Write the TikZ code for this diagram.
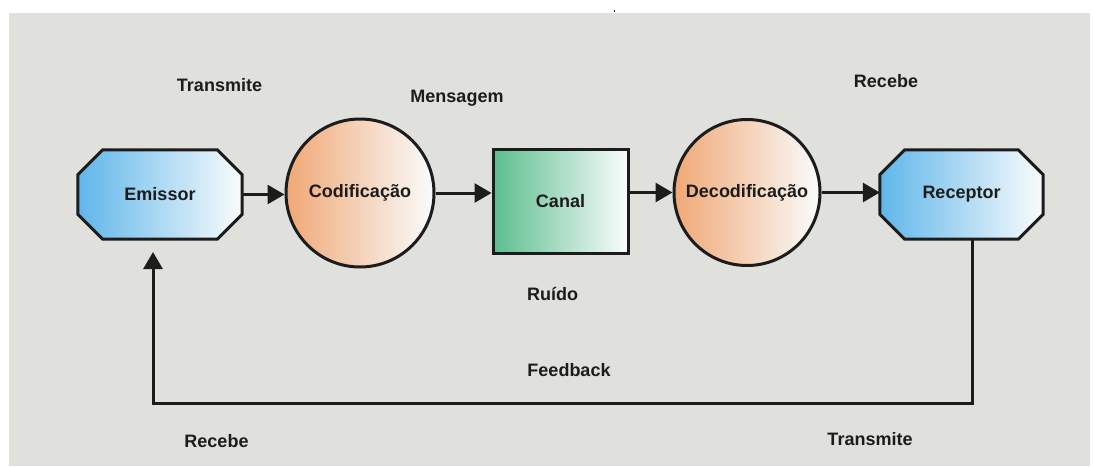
\documentclass[tikz,border=0pt]{standalone}
\usepackage{fontspec}
\setmainfont{Liberation Sans}
\usetikzlibrary{arrows.meta,calc,backgrounds}

\definecolor{panel}{RGB}{224,224,221}
\definecolor{ink}{RGB}{28,28,28}
\definecolor{skyblue}{RGB}{95,182,234}
\definecolor{peach}{RGB}{240,168,118}
\definecolor{mint}{RGB}{92,190,142}
\definecolor{paper}{RGB}{250,252,253}

\tikzset{
  txt/.style={font=\fontsize{18}{20}\selectfont\bfseries, text=ink, inner sep=0pt},
  outline/.style={draw=ink, line width=3pt},
  octbox/.style={txt, rectangle, draw=none, minimum width=164pt, minimum height=89pt},
  circbox/.style={txt, circle, outline, left color=peach, right color=paper, minimum size=148pt},
  chanbox/.style={txt, rectangle, outline, left color=mint, right color=paper,
                  minimum width=135pt, minimum height=104pt},
  flow/.style={draw=ink, line width=3pt, -{Triangle[length=17pt,width=19pt]}},
  caption/.style={txt, anchor=base},
}

% octagon with chamfered corners around a rectangular node
\newcommand{\chamferpath}[1]{%
  ($(#1.north west)+(25,0)$) -- ($(#1.north east)+(-25,0)$) --
  ($(#1.north east)+(0,25)$) -- ($(#1.south east)+(0,-25)$) --
  ($(#1.south east)+(-25,0)$) -- ($(#1.south west)+(25,0)$) --
  ($(#1.south west)+(0,-25)$) -- ($(#1.north west)+(0,25)$) -- cycle}

\begin{document}
\begin{tikzpicture}[x=1pt,y=-1pt]
  \useasboundingbox (0,0) rectangle (1094,466);

  % blocks of the communication chain
  \node[octbox] (emi) at (160,194.5) {Emissor};
  \node[circbox] (cod) at (360,193) {Codificação};
  \node[chanbox] (can) at (560.5,201) {Canal};
  \node[circbox, minimum size=146pt] (dec) at (747,192.5) {Decodificação};
  \node[octbox, minimum width=163pt] (rec) at (961.5,194.5) {Receptor};

  \begin{pgfonlayer}{background}
    \fill[panel] (9,13) rectangle (1090,466);
    \draw[outline, left color=skyblue, right color=paper] \chamferpath{emi};
    \draw[outline, left color=skyblue, right color=paper] \chamferpath{rec};
  \end{pgfonlayer}

  % forward flow
  \draw[flow] (emi.east) -- (emi.east -| cod.west);
  \draw[flow] (cod.east) -- (cod.east -| can.west);
  \draw[flow] (dec.west -| can.east) -- (dec.west);
  \draw[flow] (dec.east) -- (dec.east -| rec.west);

  % feedback loop
  \coordinate (fbfoot) at (153,403);
  \coordinate (fbtip) at (153,252);
  \draw[flow] ([xshift=10.5pt]rec.south) |- (fbfoot) -- (fbtip);

  % captions
  \node[caption] (t1) at (219.5,91) {Transmite};
  \node[caption] (msg) at (457,102) {Mensagem};
  \node[caption] (r1) at (886,87) {Recebe};
  \node[caption] (noise) at (552.5,300) {Ruído};
  \node[caption] (fbk) at (569,376) {Feedback};
  \node[caption] (r2) at (216.5,447) {Recebe};
  \node[caption] (t2) at (870,445) {Transmite};

  % small speck above the panel
  \fill[ink] (613.5,9.5) rectangle (614.8,12);
\end{tikzpicture}
\end{document}
